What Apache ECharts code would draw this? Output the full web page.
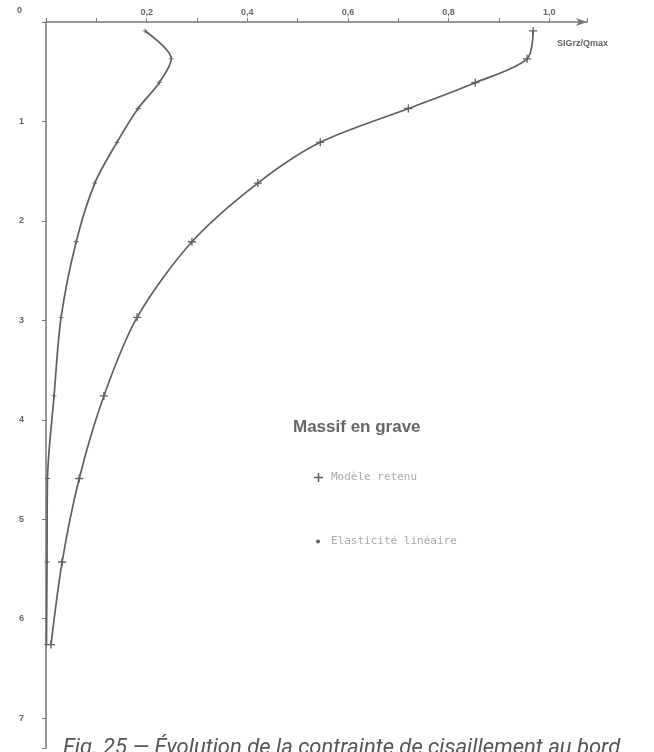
<!DOCTYPE html>
<html>
<head>
<meta charset="utf-8">
<script src="https://cdn.jsdelivr.net/npm/echarts@6/dist/echarts.min.js"></script>
<style>
  html, body { margin: 0; padding: 0; background: #fff; }
  #main { width: 654px; height: 752px; }
</style>
</head>
<body>
<div id="main"></div>
<script>
// profondeur (axe vertical, vers le bas)
const depth = [0.09, 0.37, 0.61, 0.87, 1.21, 1.62, 2.21, 2.97, 3.76, 4.59, 5.43, 6.26];
// SIGrz/Qmax
const modeleRetenu = [0.968, 0.956, 0.853, 0.720, 0.545, 0.421, 0.290, 0.181, 0.115, 0.066, 0.032, 0.010];
const elasticite = [0.197, 0.249, 0.225, 0.183, 0.141, 0.097, 0.060, 0.030, 0.016, 0.003, 0.002, 0.001];
const xTicks = [0.2, 0.4, 0.6, 0.8, 1.0];
const yTicks = [1, 2, 3, 4, 5, 6, 7];

const plus = 'path://M-1,-6h2v12h-2z M-6,-1h12v2h-12z';
const grey = '#5f5f5f';

const pairs = (xs) => xs.map((x, i) => [x, depth[i]]);

const legendText = { fontFamily: 'DejaVu Sans Mono', fontSize: 11, color: '#aaa', padding: [0, 0, 0, 3] };

const chart = echarts.init(document.getElementById('main'));
chart.setOption({
  backgroundColor: '#fff',
  animation: false,
  title: [
    {
      text: 'Massif en grave',
      left: 288, top: 414,
      textStyle: { fontFamily: 'Liberation Sans', fontSize: 17, fontWeight: 'bold', color: '#666' }
    },
    {
      text: 'Fig. 25 — Évolution de la contrainte de cisaillement au bord',
      left: 58, top: 732,
      textStyle: { fontFamily: 'Roboto', fontSize: 22, fontStyle: 'italic', fontWeight: 'normal', color: '#555' }
    }
  ],
  legend: [
    {
      left: 309, top: 467,
      itemWidth: 9, itemHeight: 9,
      data: [{ name: 'Modèle retenu', icon: plus }],
      textStyle: legendText
    },
    {
      left: 311, top: 531,
      itemWidth: 4, itemHeight: 4,
      data: [{ name: 'Elasticité linéaire', icon: 'circle' }],
      textStyle: Object.assign({}, legendText, { padding: [0, 0, 0, 6] })
    }
  ],
  grid: { left: 46, top: 22, right: 67, bottom: 4 },
  xAxis: {
    type: 'value',
    position: 'top',
    min: 0, max: 1.075,
    interval: 0.1,
    splitLine: { show: false },
    axisLine: { lineStyle: { color: '#777', width: 1.5 }, symbol: ['none', 'arrow'], symbolSize: [6, 11] },
    axisTick: { length: 4, lineStyle: { color: '#777' } },
    axisLabel: {
      margin: 5,
      fontFamily: 'Liberation Sans', fontSize: 9, fontWeight: 'bold', color: '#666',
      formatter: (v) => {
        const r = Math.round(v * 10) / 10;
        return xTicks.some(t => Math.abs(t - r) < 1e-6) ? r.toFixed(1).replace('.', ',') : '';
      }
    }
  },
  yAxis: {
    type: 'value',
    inverse: true,
    min: 0, max: 7.3,
    interval: 1,
    splitLine: { show: false },
    axisLine: { lineStyle: { color: '#777', width: 1.5 } },
    axisTick: { length: 4, lineStyle: { color: '#777' } },
    axisLabel: {
      margin: 22,
      fontFamily: 'Liberation Sans', fontSize: 9, fontWeight: 'bold', color: '#666',
      formatter: (v) => (yTicks.indexOf(v) > -1 ? String(v) : '')
    }
  },
  graphic: [
    { type: 'text', left: 17, top: 6, style: { text: '0', font: 'bold 9px "Liberation Sans"', fill: '#666' } },
    { type: 'text', left: 557, top: 39, style: { text: 'SIGrz/Qmax', font: 'bold 9px "Liberation Sans"', fill: '#666' } }
  ],
  series: [
    {
      name: 'Modèle retenu',
      type: 'line',
      smooth: 0.3,
      data: pairs(modeleRetenu),
      symbol: plus,
      symbolSize: 8,
      lineStyle: { color: grey, width: 1.7 },
      itemStyle: { color: grey }
    },
    {
      name: 'Elasticité linéaire',
      type: 'line',
      smooth: 0.3,
      data: pairs(elasticite),
      symbol: plus,
      symbolSize: 5,
      lineStyle: { color: grey, width: 1.7 },
      itemStyle: { color: grey }
    }
  ]
});
</script>
</body>
</html>
